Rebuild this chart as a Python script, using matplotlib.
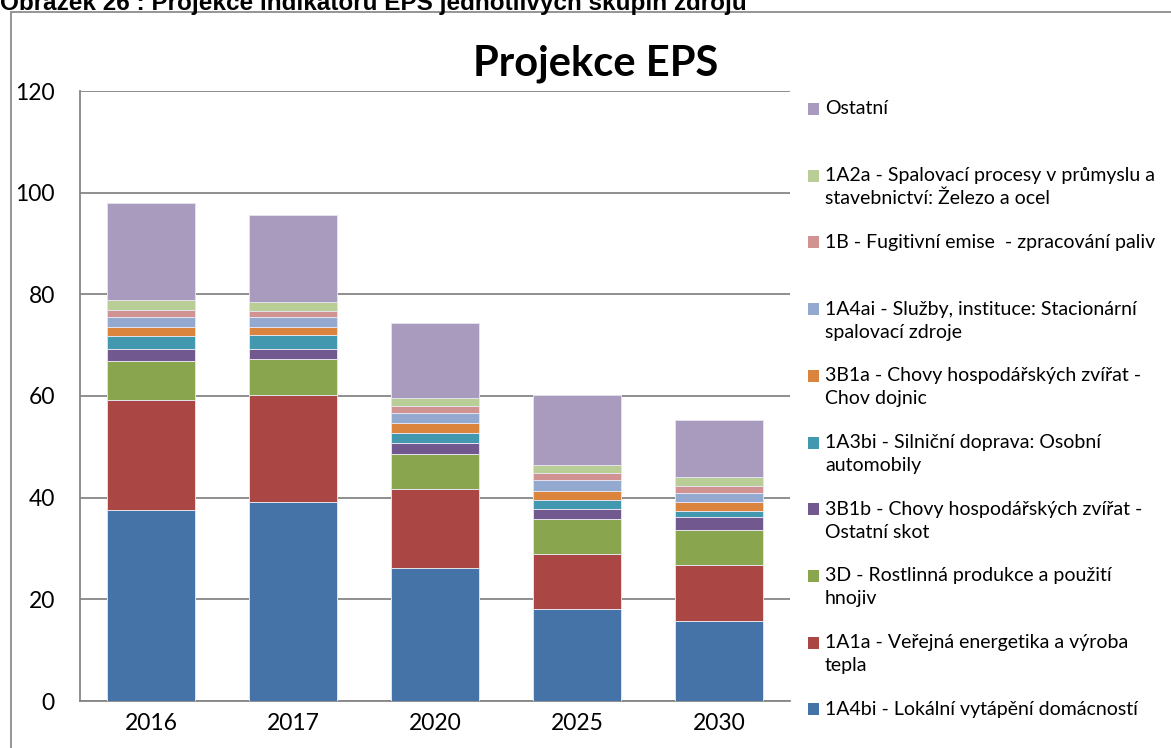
import matplotlib
matplotlib.use("Agg")
import matplotlib.pyplot as plt
import numpy as np
from matplotlib.patches import Rectangle

# =========================
# DATA (values in the chart's units)
# =========================
years = ["2016", "2017", "2020", "2025", "2030"]

# bottom -> top stack order
series_names = [
    "1A4bi - Lokální vytápění domácností",
    "1A1a - Veřejná energetika a výroba\ntepla",
    "3D - Rostlinná produkce a použití\nhnojiv",
    "3B1b - Chovy hospodářských zvířat -\nOstatní skot",
    "1A3bi - Silniční doprava: Osobní\nautomobily",
    "3B1a - Chovy hospodářských zvířat -\nChov dojnic",
    "1A4ai - Služby, instituce: Stacionární\nspalovací zdroje",
    "1B - Fugitivní emise  - zpracování paliv",
    "1A2a - Spalovací procesy v průmyslu a\nstavebnictví: Železo a ocel",
    "Ostatní",
]

s_1a4bi = [37.6, 39.2, 26.2, 18.1, 15.8]
s_1a1a = [21.7, 20.9, 15.6, 10.9, 10.9]
s_3d = [7.6, 7.1, 6.8, 6.9, 7.0]
s_3b1b = [2.3, 2.0, 2.1, 1.9, 2.4]
s_1a3bi = [2.7, 2.75, 2.1, 1.8, 1.3]
s_3b1a = [1.6, 1.65, 1.8, 1.8, 1.8]
s_1a4ai = [2.1, 1.9, 2.0, 2.0, 1.8]
s_1b = [1.4, 1.2, 1.5, 1.4, 1.3]
s_1a2a = [1.8, 1.8, 1.6, 1.7, 1.7]
s_ostatni = [19.2, 17.1, 14.7, 13.7, 11.3]

series_values = [s_1a4bi, s_1a1a, s_3d, s_3b1b, s_1a3bi,
                 s_3b1a, s_1a4ai, s_1b, s_1a2a, s_ostatni]

colors = ["#4572A7", "#AA4643", "#89A54E", "#71588F", "#4198AF",
          "#DB843D", "#93A9CF", "#D19392", "#B9CD96", "#A99BBD"]

yticks = [0, 20, 40, 60, 80, 100, 120]

# =========================
# FIGURE
# =========================
W, H = 1171, 748
plt.rcParams["font.family"] = ["Lato", "DejaVu Sans"]
fig = plt.figure(figsize=(W / 100, H / 100), dpi=100)

def fx(px):
    return px / W

def fy(py):
    return 1 - py / H

grid_col = "#868686"

# outer chart frame (only left and top edges are visible)
fig.add_artist(Rectangle((fx(11), -0.1), 1.2, fy(12) + 0.1, transform=fig.transFigure,
                         fill=False, edgecolor="#8c8c8c", linewidth=1.3))

# caption, cut off at the top edge of the picture (as in the source document)
fig.text(0.0, fy(10), "Obrázek 26 : Projekce indikátorů EPS jednotlivých skupin zdrojů",
         family=["Liberation Sans", "DejaVu Sans"], fontweight="bold", fontsize=17.5,
         va="baseline", ha="left")

ax = fig.add_axes([fx(80), fy(701), fx(790) - fx(80), fy(91) - fy(701)])
x = np.arange(len(years))
bottom = np.zeros(len(years))
for vals, col, name in zip(series_values, colors, series_names):
    ax.bar(x, vals, 0.62, bottom=bottom, color=col, edgecolor="#e4e2ec",
           linewidth=0.7, label=name, zorder=3)
    bottom += np.array(vals)

ax.set_xlim(-0.5, len(years) - 0.5)
ax.set_ylim(0, 120)
ax.set_yticks(yticks)
ax.set_xticks(x)
ax.set_xticklabels(years)
ax.tick_params(axis="both", length=0, labelsize=16.5, colors="black")
ax.tick_params(axis="y", pad=18)
ax.tick_params(axis="x", pad=9)
ax.yaxis.grid(True, color=grid_col, linewidth=1.3, zorder=0)
for side in ["top", "right"]:
    ax.spines[side].set_visible(False)
for side in ["left", "bottom"]:
    ax.spines[side].set_color(grid_col)
    ax.spines[side].set_linewidth(1.3)

fig.text(fx(596), fy(64), "Projekce EPS", fontsize=30, fontweight="bold",
         ha="center", va="center")

# legend drawn Excel-style: top entry first, marker beside the first line
leg_y0 = 109
leg_step = 66.7
line_h = 23
for i, (name, col) in enumerate(zip(series_names[::-1], colors[::-1])):
    yc = leg_y0 + i * leg_step
    fig.add_artist(Rectangle((fx(808), fy(yc + 6)), fx(11), 12 / H,
                             transform=fig.transFigure, facecolor=col, edgecolor="none"))
    for k, line in enumerate(name.split("\n")):
        fig.text(fx(825), fy(yc + k * line_h), line, fontsize=14,
                 ha="left", va="center")

fig.savefig("out.png", dpi=100)
